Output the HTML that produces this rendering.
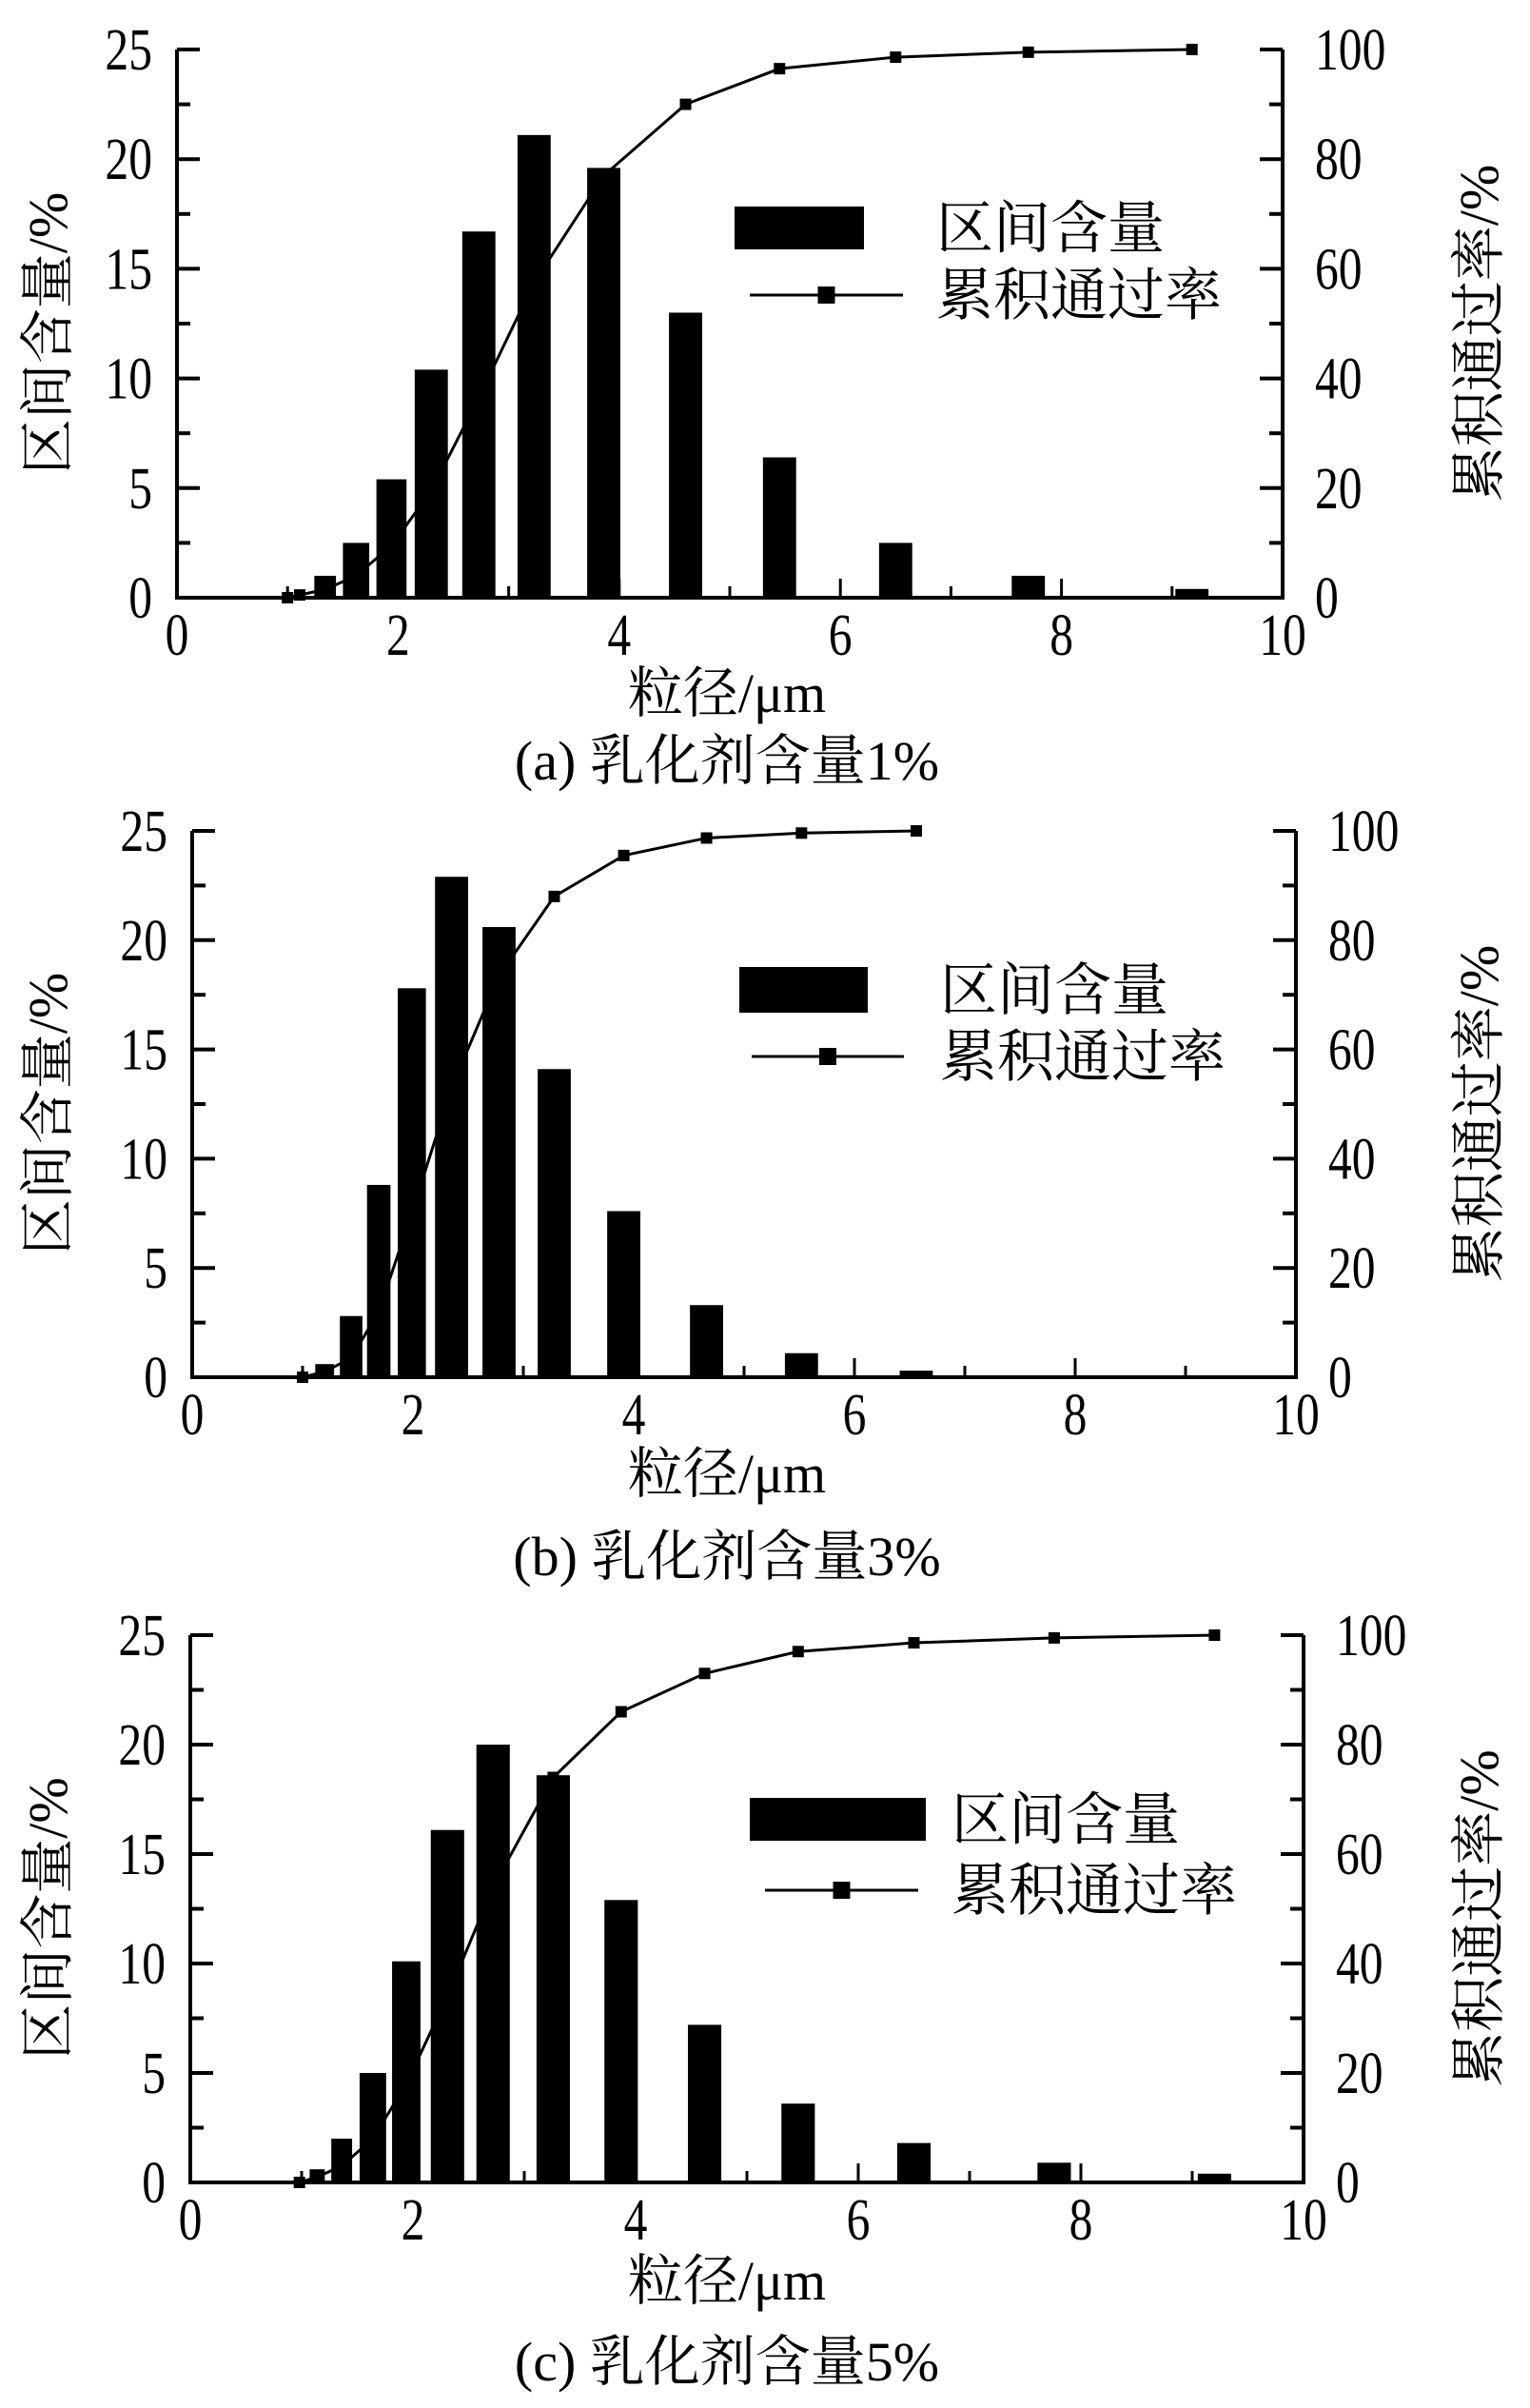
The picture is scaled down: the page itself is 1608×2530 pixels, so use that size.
<!DOCTYPE html>
<html><head><meta charset="utf-8"><style>
html,body{margin:0;padding:0;background:#fff;}
svg text{font-family:"Liberation Serif","Noto Serif CJK SC","Noto Sans CJK SC",serif;fill:#000;}
</style></head><body>
<svg id="fig" width="1608" height="2525" viewBox="0 0 1608 2525" xmlns="http://www.w3.org/2000/svg"></svg>
<script>
// Chart (a) 1%
const xA = [1.0, 1.11, 1.34, 1.62, 1.94, 2.3, 2.73, 3.23, 3.86, 4.6, 5.45, 6.5, 7.7, 9.18];
const barA = [0, 0.2, 1.0, 2.5, 5.4, 10.4, 16.7, 21.1, 19.6, 13.0, 6.4, 2.5, 1.0, 0.4];
const cumA = [0, 0.5, 1.5, 4, 9.5, 19.5, 36.5, 57.5, 77, 90, 96.5, 98.6, 99.5, 100];
// Chart (b) 3%
const xB = [1.0, 1.2, 1.44, 1.69, 1.99, 2.35, 2.78, 3.28, 3.91, 4.66, 5.52, 6.56];
const barB = [0, 0.6, 2.8, 8.8, 17.8, 22.9, 20.6, 14.1, 7.6, 3.3, 1.1, 0.3];
const cumB = [0, 1, 3.5, 12, 30, 53, 73.5, 88, 95.5, 98.7, 99.6, 100];
// Chart (c) 5%
const xC = [0.98, 1.14, 1.36, 1.64, 1.94, 2.31, 2.72, 3.26, 3.87, 4.62, 5.46, 6.5, 7.76, 9.2];
const barC = [0, 0.6, 2.0, 5.0, 10.1, 16.1, 20.0, 18.6, 12.9, 7.2, 3.6, 1.8, 0.9, 0.4];
const cumC = [0, 1, 3, 8, 18, 34, 54, 74, 86, 93, 97, 98.6, 99.5, 100];
const xTicks = [0, 2, 4, 6, 8, 10];
const yLeftTicks = [0, 5, 10, 15, 20, 25];
const yRightTicks = [0, 20, 40, 60, 80, 100];

const NS = "http://www.w3.org/2000/svg";
const svg = document.getElementById('fig');
function mk(tag, attrs, parent, txt){
  const e = document.createElementNS(NS, tag);
  for (const k in attrs) e.setAttribute(k, attrs[k]);
  if (txt !== undefined) e.textContent = txt;
  (parent || svg).appendChild(e);
  return e;
}
const S = 0.8;
function sq(x){ return `translate(${x*(1-S)},0) scale(${S},1)`; }

const charts = [
  {id:'a', L:186, R:1348, T:52, B:628, xs:xA, bars:barA, cum:cumA, cap:'(a) 乳化剂含量1%', xt:728, cy:799, leg:{rx:772, ry:217, rw:136, rh:45, ly:310, lx1:788, lx2:949, tx:984}},
  {id:'b', L:202, R:1362, T:873, B:1447, xs:xB, bars:barB, cum:cumB, cap:'(b) 乳化剂含量3%', xt:1548, cy:1635, leg:{rx:777, ry:1016, rw:135, rh:48, ly:1110, lx1:790, lx2:950, tx:988}},
  {id:'c', L:200, R:1370, T:1718, B:2293, xs:xC, bars:barC, cum:cumC, cap:'(c) 乳化剂含量5%', xt:2396, cy:2481, leg:{rx:788, ry:1889, rw:185, rh:45, ly:1986, lx1:804, lx2:965, tx:1000}}
];

charts.forEach(c => {
  const g = mk('g', {});
  
  
  const xS = v => c.L + (c.R - c.L) * v / 10;
  const yL = v => c.B - (c.B - c.T) * v / 25;
  const yR = v => c.B - (c.B - c.T) * v / 100;
  const bw = (c.R - c.L) * 0.03;

  c.bars.forEach((v, i) => {
    if (v <= 0) return;
    const w = Math.min(bw, (c.xs[i] - (c.xs[i-1] || c.xs[i]-0.3)) * (c.R-c.L)/10 * 0.85);
    const r = mk('rect', {x: xS(c.xs[i]) - w/2, y: yL(v), width: w, height: c.B - yL(v), fill:'#000'}, g);
    
    
  });
  const pts = c.xs.map((x, i) => xS(x) + ',' + yR(c.cum[i])).join(' ');
  const pl = mk('polyline', {points: pts, fill:'none', stroke:'#000', 'stroke-width':3}, g);
  
  
  c.xs.forEach((x, i) => {
    const m = mk('rect', {x: xS(x) - 6, y: yR(c.cum[i]) - 6, width: 12, height: 12, fill:'#000'}, g);
    
    
  });

  const ax = mk('path', {d:`M${c.L},${c.T} L${c.L},${c.B} L${c.R},${c.B} L${c.R},${c.T}`, fill:'none', stroke:'#000', 'stroke-width':4}, g);
  
  
  mk('line', {x1:c.L, y1:c.T, x2:c.L+24, y2:c.T, stroke:'#000','stroke-width':4}, g);
  mk('line', {x1:c.R, y1:c.T, x2:c.R-24, y2:c.T, stroke:'#000','stroke-width':4}, g);
  for (let v = 2.5; v < 25; v += 2.5) {
    const len = (v % 5 === 0) ? 24 : 14;
    mk('line', {x1:c.L, y1:yL(v), x2:c.L+len, y2:yL(v), stroke:'#000','stroke-width':4}, g);
    mk('line', {x1:c.R, y1:yL(v), x2:c.R-len, y2:yL(v), stroke:'#000','stroke-width':4}, g);
  }
  for (let v = 1; v < 10; v++) {
    const len = (v % 2 === 0) ? 20 : 12;
    mk('line', {x1:xS(v), y1:c.B, x2:xS(v), y2:c.B-len, stroke:'#000','stroke-width':3}, g);
  }
  yLeftTicks.forEach(v => {
    const t = mk('text', {x: c.L - 26, y: yL(v) + 21, 'font-size':62, 'text-anchor':'end', transform:sq(c.L-26)}, g, String(v));
    
    
  });
  yRightTicks.forEach(v => {
    const t = mk('text', {x: c.R + 34, y: yR(v) + 21, 'font-size':62, 'text-anchor':'start', transform:sq(c.R+34)}, g, String(v));
    
    
  });
  xTicks.forEach(v => {
    const t = mk('text', {x: xS(v), y: c.B + 60, 'font-size':62, 'text-anchor':'middle', transform:sq(xS(v))}, g, String(v));
    
    
  });
  const midY = (c.T + c.B) / 2;
  const yt = mk('text', {x:0, y:0, 'font-size':58, 'text-anchor':'middle', transform:`translate(70,${midY+10}) rotate(-90)`}, g, '区间含量/%');
  
  
  const yrt = mk('text', {x:0, y:0, 'font-size':58, 'text-anchor':'middle', transform:`translate(1574,${midY+10}) rotate(-90)`}, g, '累积通过率/%');
  
  
  const xt = mk('text', {x:764, y:c.xt + 20, 'font-size':58, 'text-anchor':'middle'}, g, '粒径/μm');
  
  
  const cap = mk('text', {x:764, y:c.cy + 20, 'font-size':58, 'text-anchor':'middle'}, g, c.cap);
  
  

  const lg = c.leg;
  const lr = mk('rect', {x:lg.rx, y:lg.ry, width:lg.rw, height:lg.rh, fill:'#000'}, g);
  
  
  const lt1 = mk('text', {x:lg.tx, y:lg.ry + lg.rh/2 + 21, 'font-size':60}, g, '区间含量');
  
  
  mk('line', {x1:lg.lx1, y1:lg.ly, x2:lg.lx2, y2:lg.ly, stroke:'#000','stroke-width':3}, g);
  const lm = mk('rect', {x:(lg.lx1+lg.lx2)/2 - 9, y:lg.ly - 9, width:18, height:18, fill:'#000'}, g);
  
  
  const lt2 = mk('text', {x:lg.tx, y:lg.ly + 21, 'font-size':60}, g, '累积通过率');
  
  
});
</script>
</body></html>
